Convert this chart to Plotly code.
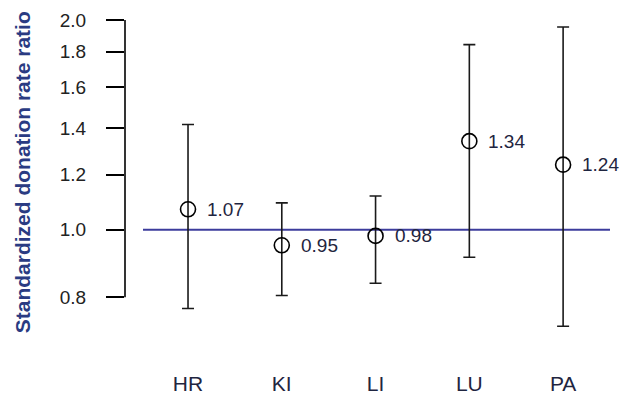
import numpy as np
import plotly.graph_objects as go

categories = ["HR", "KI", "LI", "LU", "PA"]
ratios = [1.07, 0.95, 0.98, 1.34, 1.24]
ci_upper = [1.416, 1.093, 1.118, 1.843, 1.954]
ci_lower = [0.771, 0.805, 0.838, 0.913, 0.727]
y_ticks = [0.8, 1.0, 1.2, 1.4, 1.6, 1.8, 2.0]
y_ticklabels = ["0.8", "1.0", "1.2", "1.4", "1.6", "1.8", "2.0"]
ref_value = 1.0
y_title = "Standardized donation rate ratio"

xpos = list(range(1, len(categories) + 1))
err_plus = [u - r for u, r in zip(ci_upper, ratios)]
err_minus = [r - l for r, l in zip(ratios, ci_lower)]

FONT = "Liberation Sans, Arial"

fig = go.Figure()
fig.add_trace(go.Scatter(
    x=xpos, y=ratios, mode="markers",
    marker=dict(symbol="circle-open", size=15, color="black", line=dict(width=1.6, color="black")),
    error_y=dict(type="data", symmetric=False, array=err_plus, arrayminus=err_minus,
                 color="#1a1a1a", thickness=1.6, width=6),
    showlegend=False, hoverinfo="skip",
))

# reference line
fig.add_shape(type="line", xref="x", yref="y", x0=0.52, x1=5.5, y0=ref_value, y1=ref_value,
              line=dict(color="#3c3c9c", width=2), layer="below")
# y axis line spanning tick range only
fig.add_shape(type="line", xref="paper", yref="y", x0=0, x1=0, y0=y_ticks[0], y1=y_ticks[-1],
              line=dict(color="black", width=1.6))

for xi, r in zip(xpos, ratios):
    fig.add_annotation(x=xi, y=np.log10(r), text=f"{r:.2f}", showarrow=False,
                       xanchor="left", yanchor="middle", xshift=17,
                       font=dict(family=FONT, size=19, color="#1f2540"))

# y-axis title
fig.add_annotation(x=-0.212, y=0.54, xref="paper", yref="paper", text=f"<b>{y_title}</b>",
                   textangle=-90, showarrow=False, xanchor="center", yanchor="middle",
                   font=dict(family=FONT, size=21, color="#2a3b82"))

fig.update_layout(
    width=628, height=412,
    margin=dict(l=125, r=18, t=10, b=52),
    paper_bgcolor="white", plot_bgcolor="white",
    xaxis=dict(range=[0.328, 5.5], tickvals=xpos, ticktext=categories,
               showgrid=False, zeroline=False, showline=False, ticks="",
               tickfont=dict(family=FONT, size=21, color="#1f2540"),
               ticklabelstandoff=9),
    yaxis=dict(type="log", range=[-0.18684, 0.3124], tickvals=y_ticks, ticktext=y_ticklabels,
               showgrid=False, zeroline=False, showline=False,
               ticks="outside", ticklen=18, tickwidth=1.6, tickcolor="black",
               ticklabelstandoff=16,
               tickfont=dict(family=FONT, size=19, color="#222222")),
)

fig.write_html("out.html", config={"displayModeBar": False},
               post_script="document.body.style.margin='0';document.body.style.padding='0';")
